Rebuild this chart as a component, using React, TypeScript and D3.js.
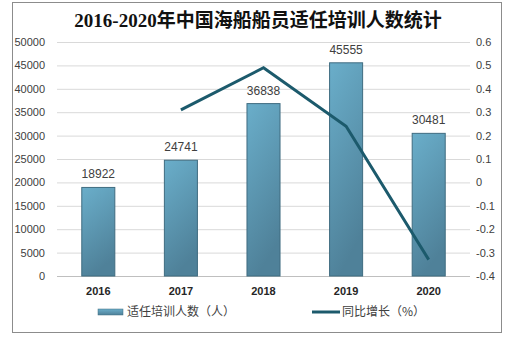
import React from "react";
import * as d3 from "d3";

const years = ["2016", "2017", "2018", "2019", "2020"];
const trainees = [18922, 24741, 36838, 45555, 30481];
const growthYears = ["2017", "2018", "2019", "2020"];
const growth = [0.31, 0.49, 0.24, -0.33];
const leftTicks = [0, 5000, 10000, 15000, 20000, 25000, 30000, 35000, 40000, 45000, 50000];
const rightTicks = [-0.4, -0.3, -0.2, -0.1, 0, 0.1, 0.2, 0.3, 0.4, 0.5, 0.6];
const title = "2016-2020年中国海船船员适任培训人数统计";
const barLegend = "适任培训人数（人）";
const lineLegend = "同比增长（%）";

export default function App() {
  const W = 517, H = 340;
  const x0 = 57, x1 = 470, yTop = 42, yBot = 276;
  const x = d3.scaleBand().domain(years).range([x0, x1]).paddingInner(0.6).paddingOuter(0.3);
  const yL = d3.scaleLinear().domain([0, 50000]).range([yBot, yTop]);
  const yR = d3.scaleLinear().domain([-0.4, 0.6]).range([yBot, yTop]);
  const cx = (d: string) => (x(d) as number) + x.bandwidth() / 2;
  const line = d3.line<number>().x((_, i) => cx(growthYears[i])).y((v) => yR(v));
  const font = "'Liberation Sans', Arial, sans-serif";
  const cjk = "'Noto Sans CJK SC', sans-serif";
  return (
    <svg width={W} height={H} style={{ position: "absolute", left: 0, top: 0 }}>
      <defs>
        <linearGradient id="bg" x1="0" y1="0" x2="0.3" y2="1">
          <stop offset="0" stopColor="#6aaeca" />
          <stop offset="1" stopColor="#4f8199" />
        </linearGradient>
        <linearGradient id="lg" x1="0" y1="0" x2="0" y2="1">
          <stop offset="0" stopColor="#6aaeca" />
          <stop offset="1" stopColor="#4f8199" />
        </linearGradient>
      </defs>
      <rect x={0} y={0} width={W} height={H} fill="#fff" />
      <rect x={12.5} y={2.5} width={489} height={330} fill="none" stroke="#8c8c8c" strokeWidth={1} />
      <text x={258} y={27} textAnchor="middle" fontFamily={"'Liberation Serif', " + cjk} fontWeight="bold" fontSize={19} fill="#111">
        {title}
      </text>
      {leftTicks.map((t) => (
        <g key={"l" + t}>
          <line x1={x0} x2={x1} y1={yL(t) + 0.5} y2={yL(t) + 0.5} stroke={t === 0 ? "#bfbfbf" : "#d9d9d9"} />
          <text x={45} y={yL(t) + 4} textAnchor="end" fontFamily={font} fontSize={11} fill="#404040">{t}</text>
        </g>
      ))}
      {rightTicks.map((t) => (
        <text key={"r" + t} x={476} y={yR(t) + 4} fontFamily={font} fontSize={11} fill="#404040">
          {String(Math.round(t * 10) / 10)}
        </text>
      ))}
      {years.map((yr, i) => (
        <g key={yr}>
          <rect x={x(yr)} y={yL(trainees[i])} width={x.bandwidth()} height={yBot - yL(trainees[i])} fill="url(#bg)" stroke="#3f6c80" strokeWidth={1} />
          <text x={cx(yr)} y={yL(trainees[i]) - 9} textAnchor="middle" fontFamily={font} fontSize={12} fill="#404040">{trainees[i]}</text>
          <text x={cx(yr)} y={295} textAnchor="middle" fontFamily={font} fontWeight="bold" fontSize={11} fill="#262626">{yr}</text>
        </g>
      ))}
      <path d={line(growth) || ""} fill="none" stroke="#1c5a6c" strokeWidth={3} />
      <rect x={98} y={309} width={25} height={6} fill="url(#lg)" stroke="#3f6c80" strokeWidth={0.5} />
      <text x={127} y={316} fontFamily={cjk} fontSize={12} fill="#404040">{barLegend}</text>
      <line x1={312} x2={340} y1={312} y2={312} stroke="#1c5a6c" strokeWidth={3} />
      <text x={342} y={316} fontFamily={cjk} fontSize={12} fill="#404040">{lineLegend}</text>
    </svg>
  );
}
